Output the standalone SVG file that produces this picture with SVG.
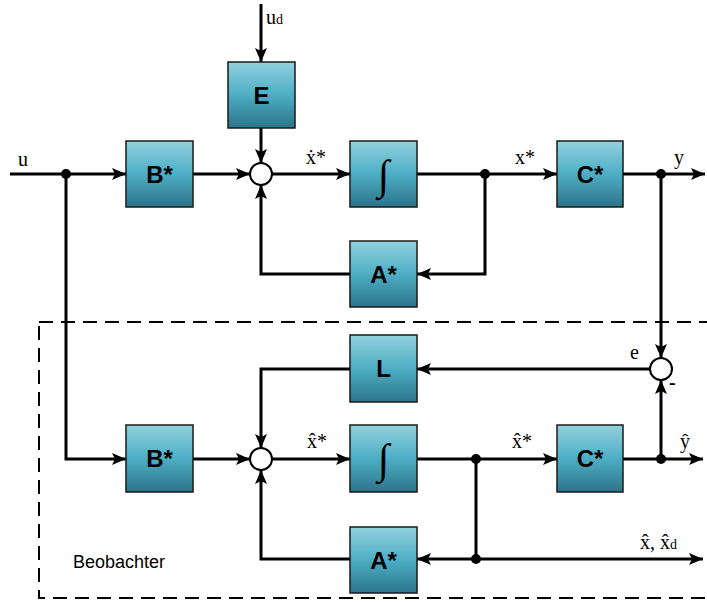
<svg xmlns="http://www.w3.org/2000/svg" width="707" height="602" viewBox="0 0 707 602">
<defs>
<linearGradient id="g" x1="0" y1="0" x2="0" y2="1">
<stop offset="0" stop-color="#92d1de"/>
<stop offset="0.5" stop-color="#4daec5"/>
<stop offset="1" stop-color="#2c7489"/>
</linearGradient>
<marker id="a" viewBox="0 0 14 12" refX="14" refY="6" markerWidth="14" markerHeight="12" markerUnits="userSpaceOnUse" orient="auto">
<path d="M0,0 L14,6 L0,12 L3,6 Z" fill="#000"/>
</marker>
<style>
.blk{fill:url(#g);stroke:#1a1a1a;stroke-width:1.5}
.bl{font-family:"Liberation Sans",Arial,sans-serif;font-weight:bold;font-size:24px;fill:#000;text-anchor:middle}
.int{font-family:"Liberation Serif","Times New Roman",serif;font-size:42px;fill:#000;text-anchor:middle}
.ln{fill:none;stroke:#000;stroke-width:3}
.ar{marker-end:url(#a)}
.sum{fill:#fff;stroke:#000;stroke-width:2}
.lb{font-family:"Liberation Serif","Times New Roman",serif;font-size:20px;fill:#000}
.sub{font-size:14px}
.dot{fill:#000}
</style>
</defs>
<rect x="39" y="322" width="690" height="276" fill="none" stroke="#000" stroke-width="2" stroke-dasharray="14,8"/>
<text x="73" y="568" font-family="'Liberation Sans',Arial,sans-serif" font-size="18" fill="#000">Beobachter</text>
<g id="connectors">
<path class="ln ar" d="M10,174 H126"/>
<path class="ln ar" d="M193,174 H250"/>
<path class="ln ar" d="M261,4 V62"/>
<path class="ln ar" d="M261,128 V163"/>
<path class="ln ar" d="M272,174 H350"/>
<path class="ln ar" d="M417,174 H557"/>
<path class="ln ar" d="M623,174 H705"/>
<path class="ln ar" d="M485,174 V274 H417"/>
<path class="ln ar" d="M350,274 H261 V185"/>
<path class="ln ar" d="M66,174 V459 H126"/>
<path class="ln ar" d="M193,459 H250"/>
<path class="ln ar" d="M272,459 H350"/>
<path class="ln ar" d="M417,459 H557"/>
<path class="ln ar" d="M623,459 H703"/>
<path class="ln ar" d="M661,174 V358"/>
<path class="ln ar" d="M661,459 V380"/>
<path class="ln ar" d="M650,369 H417"/>
<path class="ln ar" d="M350,369 H261 V448"/>
<path class="ln ar" d="M476,459 V559 H417"/>
<path class="ln ar" d="M476,559 H703"/>
<path class="ln ar" d="M350,559 H261 V470"/>
<circle class="dot" cx="66" cy="174" r="5"/>
<circle class="dot" cx="485" cy="174" r="5"/>
<circle class="dot" cx="661" cy="174" r="5"/>
<circle class="dot" cx="476" cy="459" r="5"/>
<circle class="dot" cx="661" cy="459" r="5"/>
<circle class="dot" cx="476" cy="559" r="5"/>
</g>
<g id="sum1"><circle class="sum" cx="261" cy="174" r="11"/></g>
<g id="sum2"><circle class="sum" cx="261" cy="459" r="11"/></g>
<g id="sum3"><circle class="sum" cx="661" cy="369" r="11"/></g>
<g id="E"><rect class="blk" x="228" y="62" width="67" height="66"/><text class="bl" x="261.5" y="104">E</text></g>
<g id="B1"><rect class="blk" x="126" y="141" width="67" height="66"/><text class="bl" x="159.5" y="183">B*</text></g>
<g id="I1"><rect class="blk" x="350" y="141" width="67" height="66"/><text class="int" x="383.5" y="189">∫</text></g>
<g id="C1"><rect class="blk" x="557" y="141" width="66" height="66"/><text class="bl" x="590" y="183">C*</text></g>
<g id="A1"><rect class="blk" x="350" y="241" width="67" height="66"/><text class="bl" x="383.5" y="283">A*</text></g>
<g id="L"><rect class="blk" x="350" y="335" width="67" height="67"/><text class="bl" x="383.5" y="377">L</text></g>
<g id="B2"><rect class="blk" x="126" y="425" width="67" height="67"/><text class="bl" x="159.5" y="467">B*</text></g>
<g id="I2"><rect class="blk" x="350" y="425" width="67" height="67"/><text class="int" x="383.5" y="473">∫</text></g>
<g id="C2"><rect class="blk" x="557" y="425" width="66" height="67"/><text class="bl" x="590" y="467">C*</text></g>
<g id="A2"><rect class="blk" x="350" y="527" width="67" height="66"/><text class="bl" x="383.5" y="569">A*</text></g>
<g id="labels">
<text class="lb" x="18" y="166">u</text>
<text class="lb" x="266" y="24">u<tspan class="sub">d</tspan></text>
<text class="lb" x="306" y="164">ẋ*</text>
<text class="lb" x="515" y="164">x*</text>
<text class="lb" x="674" y="164">y</text>
<text class="lb" x="630" y="359">e</text>
<text class="lb" x="669" y="389" font-weight="bold">-</text>
<text class="lb" x="307" y="448">x̂*</text>
<text class="lb" x="512" y="448">x̂*</text>
<text class="lb" x="680" y="448">ŷ</text>
<text class="lb" x="640" y="549">x̂, x̂<tspan class="sub">d</tspan></text>
</g>
</svg>
